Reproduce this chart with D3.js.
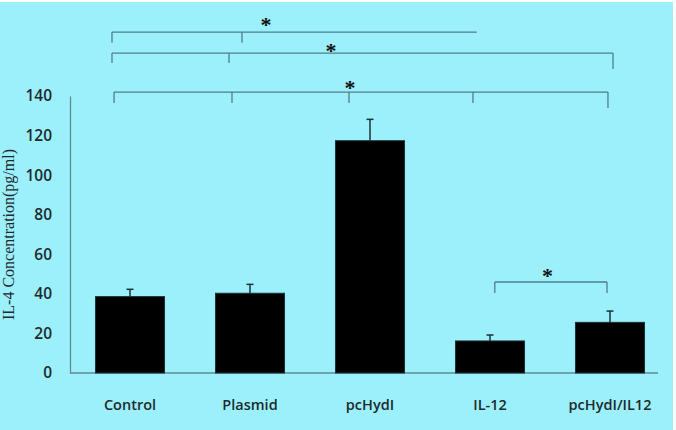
<!DOCTYPE html>
<html>
<head>
<meta charset="utf-8">
<script src="https://cdn.jsdelivr.net/npm/d3@7"></script>
<style>
  body { margin: 0; background: #fff; }
  svg { display: block; }
  .tick-label { font-family: "Open Sans", sans-serif; font-size: 15.5px; font-weight: 600; fill: #1e2a2c; }
  .cat-label { font-family: "Open Sans", sans-serif; font-size: 14.5px; font-weight: 600; fill: #1e2a2c; }
  .y-title { font-family: "Liberation Serif", "Times New Roman", serif; font-size: 16px; fill: #1e2a2c; }
  .star { font-family: "Liberation Serif", serif; font-size: 22px; font-weight: bold; fill: #111; }
</style>
</head>
<body>
<div class="js-chart"></div>
<script>
// data
let categories = ["Control", "Plasmid", "pcHydI", "IL-12", "pcHydI/IL12"];
let means = [38.6, 40.3, 117.4, 16.2, 25.6];
let errors = [3.7, 4.5, 10.8, 3.0, 5.7];
let yTicks = [0, 20, 40, 60, 80, 100, 120, 140];

// significance brackets: level (y value), from/to (category index), drops [index, bottom value], star [index, value]
let bracketLevels = [172.3, 161.7, 142, 46];
let bracketSpans = [[-0.15, 2.89], [-0.15, 4.025], [-0.133, 3.983], [3.04, 3.975]];
let bracketDrops = [
  [[-0.15, 166.9], [0.933, 166.9]],
  [[-0.15, 156.7], [0.825, 156.7], [4.025, 153.6]],
  [[-0.133, 136.5], [0.85, 136.5], [1.825, 136.5], [2.858, 136.5], [3.983, 133.9]],
  [[3.04, 40.4], [3.975, 40.4]]
];
let stars = [[1.133, 177.9], [1.675, 164.8], [1.833, 146], [3.48, 51]];

function createChart() {
  var width = 676;
  var height = 430;
  var left = 70, right = 670, bottom = 373, top = 96;

  var svg = d3.select('.js-chart').append('svg')
    .attr('width', width)
    .attr('height', height);

  // panel background (thin white edge top and right)
  svg.append('rect')
    .attr('x', 0).attr('y', 2)
    .attr('width', 673).attr('height', height - 2)
    .attr('fill', '#9cf0fb');

  var x = d3.scaleBand()
    .domain(categories)
    .range([left, right])
    .paddingInner(0.425)
    .paddingOuter(0.2125);

  var y = d3.scaleLinear()
    .domain([0, 140])
    .range([bottom, top]);

  var xIdx = d3.scaleLinear()
    .domain([0, categories.length - 1])
    .range([x(categories[0]) + x.bandwidth() / 2, x(categories[categories.length - 1]) + x.bandwidth() / 2]);

  // y axis: plain line + labels, no ticks
  var yAxis = svg.append('g')
    .attr('transform', `translate(${left},0)`)
    .call(d3.axisLeft(y).tickValues(yTicks).tickSize(0).tickPadding(18));
  yAxis.select('.domain').attr('stroke', '#5f8c92').attr('stroke-width', 1.3);
  yAxis.selectAll('text').attr('class', 'tick-label').attr('font-family', null).attr('font-size', null);

  // x axis line
  svg.append('line')
    .attr('x1', left).attr('x2', 658)
    .attr('y1', y(0)).attr('y2', y(0))
    .attr('stroke', '#5f8c92')
    .attr('stroke-width', 1.3);

  // bars
  svg.selectAll('.bar')
    .data(categories)
    .enter()
    .append('rect')
    .attr('class', 'bar')
    .attr('x', (d) => x(d))
    .attr('width', x.bandwidth())
    .attr('y', (d, i) => y(means[i]))
    .attr('height', (d, i) => y(0) - y(means[i]))
    .attr('fill', '#000')
    .attr('stroke', '#1c3236')
    .attr('stroke-width', 1);

  // error bars (upper only)
  var err = svg.selectAll('.err')
    .data(categories)
    .enter()
    .append('g')
    .attr('class', 'err')
    .attr('stroke', '#1c3236')
    .attr('stroke-width', 1.5);
  err.append('line')
    .attr('x1', (d) => x(d) + x.bandwidth() / 2)
    .attr('x2', (d) => x(d) + x.bandwidth() / 2)
    .attr('y1', (d, i) => y(means[i]))
    .attr('y2', (d, i) => y(means[i] + errors[i]));
  err.append('line')
    .attr('x1', (d) => x(d) + x.bandwidth() / 2 - 3.5)
    .attr('x2', (d) => x(d) + x.bandwidth() / 2 + 3.5)
    .attr('y1', (d, i) => y(means[i] + errors[i]))
    .attr('y2', (d, i) => y(means[i] + errors[i]));

  // category labels
  svg.selectAll('.cat-label')
    .data(categories)
    .enter()
    .append('text')
    .attr('class', 'cat-label')
    .attr('x', (d) => x(d) + x.bandwidth() / 2)
    .attr('y', 410)
    .attr('text-anchor', 'middle')
    .text((d) => d);

  // y title
  svg.append('text')
    .attr('class', 'y-title')
    .attr('transform', `translate(14,${(top + bottom) / 2})rotate(-90)`)
    .attr('text-anchor', 'middle')
    .text('IL-4 Concentration(pg/ml)');

  // brackets
  var br = svg.selectAll('.bracket')
    .data(bracketLevels)
    .enter()
    .append('g')
    .attr('class', 'bracket')
    .attr('stroke', '#4f7f88')
    .attr('stroke-width', 1.3)
    .attr('fill', 'none');
  br.append('line')
    .attr('x1', (d, i) => xIdx(bracketSpans[i][0]))
    .attr('x2', (d, i) => xIdx(bracketSpans[i][1]))
    .attr('y1', (d) => y(d))
    .attr('y2', (d) => y(d));
  br.each(function (d, i) {
    d3.select(this).selectAll('.drop')
      .data(bracketDrops[i])
      .enter()
      .append('line')
      .attr('x1', (p) => xIdx(p[0]))
      .attr('x2', (p) => xIdx(p[0]))
      .attr('y1', y(d))
      .attr('y2', (p) => y(p[1]));
  });

  svg.selectAll('.star')
    .data(stars)
    .enter()
    .append('text')
    .attr('class', 'star')
    .attr('x', (d) => xIdx(d[0]))
    .attr('y', (d) => y(d[1]) + 11)
    .attr('text-anchor', 'middle')
    .text('*');
}

createChart();
</script>
</body>
</html>
